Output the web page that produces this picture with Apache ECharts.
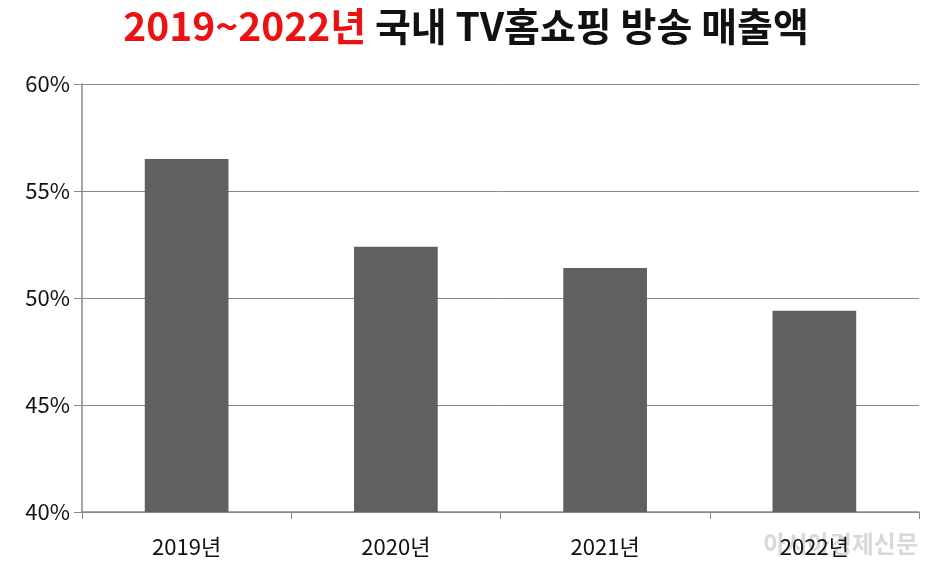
<!DOCTYPE html>
<html><head><meta charset="utf-8">
<script src="https://cdn.jsdelivr.net/npm/echarts@6/dist/echarts.min.js"></script>
<style>html,body{margin:0;padding:0;background:#fff}#c{width:932px;height:572px}</style>
</head><body><div id="c"></div>
<script>
const categories = ['2019년','2020년','2021년','2022년'];
const values = [56.5, 52.4, 51.4, 49.4];
const chart = echarts.init(document.getElementById('c'));
chart.setOption({
  animation:false,
  title:{text:'{r|2019~2022년} 국내 TV홈쇼핑 방송 매출액',left:'center',top:2,
    textStyle:{fontFamily:'Noto Sans CJK KR',fontSize:39,fontWeight:'bold',color:'#111',
      rich:{r:{fontFamily:'Noto Sans CJK KR',fontSize:39,fontWeight:'bold',color:'#ee1111'}}}},
  graphic:[{type:'text',right:14,bottom:16,style:{text:'아시아경제신문',font:'bold 24px "Noto Sans CJK KR"',fill:'rgba(190,190,190,0.6)'}}],
  grid:{left:82,right:13,top:84,bottom:60},
  xAxis:{type:'category',data:categories,
    axisLine:{lineStyle:{color:'#888',width:1.5}},
    axisTick:{show:true,length:7,lineStyle:{color:'#888'}},
    axisLabel:{fontFamily:'Noto Sans CJK KR',fontSize:22,color:'#111',margin:24}},
  yAxis:{type:'value',min:40,max:60,interval:5,
    axisLine:{show:true,lineStyle:{color:'#888',width:1.5}},
    axisTick:{show:true,length:8,lineStyle:{color:'#888'}},
    splitLine:{lineStyle:{color:'#888',width:1}},
    axisLabel:{formatter:'{value}%',fontFamily:'Noto Sans CJK KR',fontSize:22,color:'#111',margin:12}},
  series:[{type:'bar',data:values,barWidth:'40%',itemStyle:{color:'#606060'}}]
});
</script></body></html>
